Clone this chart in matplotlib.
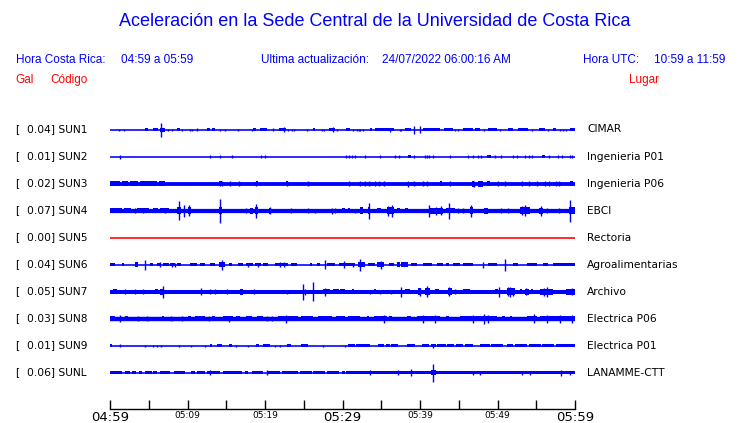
import matplotlib
matplotlib.use('Agg')
import matplotlib.pyplot as plt

W, H = 740, 423
BLUE = '#0000ff'
RED = '#ff0000'

stations = ['SUN1', 'SUN2', 'SUN3', 'SUN4', 'SUN5', 'SUN6', 'SUN7', 'SUN8', 'SUN9', 'SUNL']
places = ['CIMAR', 'Ingenieria P01', 'Ingenieria P06', 'EBCI', 'Rectoria',
          'Agroalimentarias', 'Archivo', 'Electrica P06', 'Electrica P01', 'LANAMME-CTT']
peaks = [0.04, 0.01, 0.02, 0.07, 0.00, 0.04, 0.05, 0.03, 0.01, 0.06]
# half thickness (px) of the quiet part of each trace
base = [0.6, 0.6, 1.7, 1.9, 0.6, 0.6, 1.8, 2.0, 0.6, 0.6]

tick_minutes = list(range(0, 61, 5))
tick_labels = ['04:59', '', '05:09', '', '05:19', '', '05:29', '', '05:39', '', '05:49', '', '05:59']

# bursts: (start minute, end minute, half amplitude px); spikes: (minute, half amplitude px)
sun1_blobs = [(4.5, 4.9, 1.3), (5.6, 6.2, 1.3), (6.4, 7.1, 2.0), (8.7, 9.0, 1.3), (12.5, 12.9, 1.3),
              (13.2, 13.6, 1.3), (18.5, 18.8, 1.3), (19.4, 20.2, 1.3), (21.8, 22.7, 1.5), (26.2, 26.5, 1.3),
              (28.2, 29.0, 1.5), (30.5, 31.0, 1.3), (33.5, 33.8, 1.3), (34.2, 36.6, 1.5), (38.1, 38.9, 1.3),
              (40.4, 42.6, 1.5), (43.1, 44.3, 1.3), (45.6, 46.9, 1.5), (47.1, 47.7, 1.3), (48.8, 49.9, 1.5),
              (51.4, 52.0, 1.3), (52.7, 54.0, 1.5), (55.3, 56.1, 1.3), (57.2, 57.6, 1.3), (59.4, 60.0, 1.5)]
sun1_spikes = [(1.1, 1), (1.8, 1), (6.6, 7), (7.5, 1), (8.0, 1), (9.3, 1), (10.3, 1), (10.6, 1), (11.2, 1.3),
               (14.2, 1), (14.8, 1), (16.5, 1), (18.3, 1), (21.0, 1.3), (22.5, 2.2), (23.0, 1), (23.5, 1),
               (23.8, 1), (25.4, 1), (27.4, 1), (27.6, 1), (28.8, 2.3), (29.3, 1), (31.4, 1), (31.9, 1),
               (32.1, 1), (32.3, 1), (32.6, 1), (36.1, 2), (37.4, 1), (37.6, 1), (39.2, 4), (40.0, 3.5),
               (44.5, 1), (44.9, 1), (48.3, 1), (50.3, 1), (54.4, 1), (56.5, 1), (58.1, 1), (58.4, 1), (58.9, 1)]

sun2_blobs = [(38.5, 38.9, 1.4), (48.6, 49.2, 1.4), (55.7, 56.1, 1.2)]
sun2_spikes = [(1.3, 2), (12.9, 1.5), (14.2, 1.5), (15.7, 1.5), (19.5, 1.5), (20.0, 1.5), (30.5, 1.2),
               (30.9, 1.2), (31.2, 1.2), (31.6, 1.2), (32.9, 1.2), (34.8, 1.2), (36.8, 1.2), (37.3, 1.2),
               (39.2, 1.2), (40.6, 1.2), (40.9, 1.2), (41.2, 1.2), (41.7, 1.2), (43.9, 1.2), (46.2, 1.2),
               (46.8, 1.2), (47.5, 1.2), (47.9, 1.2), (49.7, 1.2), (50.5, 1.2), (52.0, 1.2), (52.5, 1.2),
               (53.5, 1.2), (54.1, 1.2), (54.5, 1.2), (56.6, 1.2), (57.8, 1.2), (58.3, 1.2), (59.4, 1.2), (59.6, 1.2)]

sun3_blobs = [(0.0, 1.3, 2.2), (1.5, 2.3, 2.2), (2.6, 3.6, 2.2), (3.9, 6.0, 2.2), (6.3, 7.1, 2.2),
              (14.1, 14.4, 2.5), (18.8, 19.1, 2.5), (22.7, 23.0, 2.5), (42.6, 42.8, 2.5), (46.7, 46.9, 3.0),
              (47.5, 48.1, 3.0), (48.6, 49.0, 2.7), (59.3, 59.8, 2.5)]
sun3_spikes = [(14.2, 2.7), (14.5, 2.3), (15.5, 2.5), (16.7, 2.2), (18.9, 2.7), (22.8, 2.7), (25.6, 2.3),
               (30.9, 2.2), (32.3, 2.5), (32.9, 2.2), (33.4, 2.2), (34.2, 2.2), (34.7, 2.3), (35.4, 2.2),
               (38.5, 3.0), (39.2, 2.3), (40.4, 2.2), (40.9, 2.2), (43.9, 2.2), (47.0, 3.0), (50.0, 2.2),
               (51.0, 2.2), (53.2, 2.2), (54.0, 2.2), (55.1, 2.2), (56.1, 2.3), (56.6, 2.3), (57.6, 2.3), (57.9, 2.3)]

sun4_blobs = [(0.0, 1.5, 2.3), (1.8, 2.7, 2.3), (3.5, 5.0, 2.3), (5.6, 6.2, 2.3), (6.5, 7.6, 2.3),
              (8.6, 9.1, 3.2), (10.0, 10.5, 3.2), (14.0, 14.4, 3.2), (18.1, 18.5, 3.0), (18.7, 19.1, 3.5),
              (20.5, 20.7, 3.0), (29.9, 30.3, 2.8), (30.7, 31.0, 2.3), (32.3, 32.6, 3.2), (33.3, 33.5, 3.5),
              (34.4, 35.0, 2.8), (35.7, 36.6, 3.5), (37.0, 37.4, 2.5), (38.1, 38.5, 2.3), (41.1, 43.0, 3.0),
              (43.4, 44.5, 2.8), (46.5, 46.8, 3.2), (48.2, 48.8, 3.0), (52.9, 54.2, 3.3), (55.3, 55.9, 3.0),
              (59.2, 60.0, 3.2)]
sun4_spikes = [(3.2, 2.5), (4.3, 2.5), (7.1, 2.5), (8.9, 9.3), (9.6, 6), (10.2, 5.5), (14.2, 12), (17.6, 2.3),
               (18.9, 7), (20.6, 3.5), (23.4, 2.5), (25.6, 2.3), (26.4, 2.0), (28.6, 3), (29.0, 2.5), (31.6, 2.0),
               (33.4, 8), (35.9, 5), (36.4, 6), (41.2, 6), (42.0, 4), (42.7, 4.5), (43.7, 8), (44.9, 2.5),
               (45.6, 2.5), (46.6, 6), (50.5, 2.3), (51.4, 2.3), (53.2, 4.5), (53.6, 5.5), (55.6, 5), (56.4, 2.3),
               (57.9, 2.3), (59.4, 11)]

sun5_blobs = []
sun5_spikes = []

sun6_blobs = [(0.0, 0.6, 1.3), (1.5, 1.7, 1.3), (3.2, 3.6, 2.2), (5.2, 5.5, 1.8), (6.0, 6.6, 1.6), (6.9, 7.6, 1.6),
              (7.8, 8.4, 1.6), (8.6, 9.2, 1.6), (10.3, 11.2, 1.4), (11.6, 12.3, 1.4), (12.9, 13.5, 1.4),
              (14.0, 14.8, 2.2), (15.3, 15.7, 1.4), (16.5, 17.1, 1.4), (17.6, 18.4, 1.4), (18.7, 19.5, 1.4),
              (19.8, 20.4, 1.4), (21.3, 23.0, 1.8), (23.4, 24.1, 1.4), (25.8, 26.1, 1.4), (26.7, 27.1, 1.8),
              (28.0, 29.0, 1.6), (29.5, 31.6, 1.6), (32.0, 32.9, 2.2), (33.3, 34.2, 1.6), (34.4, 35.3, 2.2),
              (36.0, 36.6, 1.4), (37.0, 37.4, 2.2), (37.6, 38.5, 2.2), (38.9, 39.6, 1.8), (40.4, 41.5, 1.8),
              (42.2, 43.0, 1.4), (43.4, 43.8, 1.4), (44.3, 45.2, 1.8), (45.6, 46.9, 1.8), (48.8, 49.9, 1.4),
              (52.0, 52.7, 1.4), (53.8, 55.1, 1.8), (55.9, 56.5, 1.8), (57.2, 60.0, 1.6)]
sun6_spikes = [(4.5, 5), (6.5, 2.5), (8.0, 2), (8.4, 2), (14.5, 5), (17.8, 2), (19.1, 2), (21.9, 2.5),
               (22.5, 2.5), (27.7, 4.5), (30.2, 3.5), (31.3, 2), (32.3, 6), (35.0, 4), (48.1, 3), (51.0, 6)]

sun7_blobs = [(0.4, 0.9, 2.8), (5.8, 6.2, 2.4), (6.5, 7.0, 3.0), (16.8, 17.0, 3.0), (27.5, 28.4, 2.7),
              (28.8, 29.5, 2.2), (29.7, 30.3, 2.2), (31.2, 31.4, 2.7), (34.0, 34.3, 2.3), (38.1, 38.7, 2.4),
              (39.7, 40.1, 3.2), (40.6, 41.3, 3.2), (41.9, 42.4, 2.4), (43.6, 44.1, 3.5), (45.6, 46.5, 2.7),
              (49.7, 49.9, 2.4), (51.2, 52.3, 3.3), (52.9, 53.1, 2.4), (53.5, 54.0, 3.0), (54.3, 54.5, 2.4),
              (55.5, 57.2, 3.0), (58.9, 60.0, 3.0)]
sun7_spikes = [(1.9, 2.2), (3.2, 2.5), (4.2, 2.3), (6.8, 6), (11.8, 3.5), (12.9, 2.3), (13.5, 2.3), (15.1, 2.3),
               (18.6, 2.5), (22.8, 2.0), (24.9, 8), (25.1, 3), (26.2, 9.5), (27.7, 4), (33.5, 2), (34.8, 2),
               (36.2, 2), (37.5, 5), (40.0, 4), (40.9, 5.5), (43.8, 4.5), (44.5, 2.5), (50.2, 5), (51.4, 4.5),
               (51.6, 5), (52.0, 4), (53.7, 3.5), (56.0, 4), (56.4, 5), (59.6, 3.5)]

sun8_blobs = [(0.0, 0.6, 2.4), (1.9, 2.3, 2.6), (6.7, 7.0, 2.6), (10.1, 10.5, 2.4), (11.0, 12.3, 2.3),
              (13.2, 13.5, 2.3), (14.6, 15.9, 2.4), (16.3, 16.8, 2.6), (17.6, 18.3, 2.6), (19.0, 19.7, 2.3),
              (21.7, 24.3, 2.5), (24.7, 26.2, 2.4), (26.9, 28.6, 2.4), (29.2, 30.3, 2.5), (30.7, 32.3, 2.4),
              (33.1, 33.4, 2.4), (34.0, 35.7, 2.7), (36.0, 36.4, 2.4), (38.3, 38.9, 2.7), (39.6, 42.6, 2.7),
              (43.4, 43.8, 2.4), (45.2, 49.9, 2.7), (50.6, 51.0, 2.4), (51.6, 51.9, 2.4), (53.8, 55.1, 2.7),
              (55.5, 60.0, 2.6)]
sun8_spikes = [(1.3, 3.5), (3.6, 2.7), (4.8, 2.7), (7.9, 2.7), (9.3, 2.7), (12.8, 2.7), (15.3, 3), (20.3, 2.7),
               (20.9, 2.7), (22.7, 4), (35.3, 4), (40.4, 4), (41.9, 4), (46.9, 4), (48.2, 5), (48.8, 4),
               (54.7, 4.5), (56.4, 4), (58.1, 4), (59.6, 4)]

sun9_blobs = [(0.0, 0.2, 1.3), (12.9, 13.2, 1.5), (13.8, 14.4, 1.3), (15.4, 15.7, 1.3), (18.9, 19.1, 1.3),
              (19.8, 20.6, 1.5), (22.9, 23.4, 1.5), (24.7, 25.6, 1.3), (30.7, 31.6, 1.3), (31.8, 33.5, 1.3),
              (34.6, 35.4, 1.3), (35.6, 36.1, 1.3), (36.3, 37.2, 1.3), (38.3, 39.4, 1.3), (40.2, 41.2, 1.3),
              (41.4, 42.0, 1.3), (42.2, 43.3, 1.3), (43.5, 44.4, 1.3), (44.6, 45.6, 1.3), (45.8, 46.9, 1.3),
              (47.7, 49.0, 1.3), (49.2, 50.7, 1.3), (51.2, 52.0, 1.3), (52.3, 53.8, 1.3), (54.0, 55.6, 1.3),
              (55.8, 57.3, 1.3), (57.5, 60.0, 1.3)]
sun9_spikes = [(1.3, 1.3), (4.5, 1), (5.6, 1), (6.0, 1), (6.6, 1), (8.9, 1), (10.5, 1), (12.2, 1), (16.3, 1),
               (17.8, 1), (21.3, 1), (21.9, 1), (27.5, 1), (30.3, 1), (41.7, 2)]

sunl_blobs = [(0.0, 1.5, 1.7), (1.9, 2.6, 1.5), (2.8, 3.4, 1.5), (3.7, 4.1, 1.5), (4.5, 5.4, 1.5), (5.6, 6.0, 1.5),
              (6.5, 7.7, 1.5), (8.2, 9.7, 1.5), (10.5, 11.0, 1.5), (11.2, 12.3, 1.5), (12.5, 14.2, 1.5),
              (14.6, 17.0, 1.5), (17.4, 17.8, 1.5), (18.3, 19.8, 1.5), (20.2, 21.9, 1.5), (22.2, 24.3, 1.5),
              (24.5, 26.0, 1.3), (26.2, 27.7, 1.5), (28.0, 29.5, 1.5), (29.9, 30.3, 1.5), (30.4, 60.0, 1.7),
              (41.4, 42.0, 2.8)]
sunl_spikes = [(12.9, 2.5), (20.3, 2.5), (33.5, 2.3), (37.2, 2.3), (38.9, 3.5), (41.7, 9), (46.8, 2), (47.7, 2),
               (53.1, 2), (54.2, 2), (58.2, 3), (59.4, 2)]

all_blobs = [sun1_blobs, sun2_blobs, sun3_blobs, sun4_blobs, sun5_blobs,
             sun6_blobs, sun7_blobs, sun8_blobs, sun9_blobs, sunl_blobs]
all_spikes = [sun1_spikes, sun2_spikes, sun3_spikes, sun4_spikes, sun5_spikes,
              sun6_spikes, sun7_spikes, sun8_spikes, sun9_spikes, sunl_spikes]


def fx(x):
    return x / W


def fy(y):
    return 1 - y / H


def draw_trace(ax, y, half, blobs, spikes, color):
    # quiet part of the trace: a line as thick as 2*half pixels (1 px = 0.72 pt)
    ax.hlines(y, 0, 60, color=color, lw=2 * half * 0.72 + 0.3, capstyle='butt')
    for t0, t1, a in blobs:
        ax.bar(t0, 2 * a, width=max(t1 - t0, 0.3), bottom=y - a, align='edge', color=color, lw=0)
    if spikes:
        ts = [s[0] for s in spikes]
        ax.vlines(ts, [y - s[1] for s in spikes], [y + s[1] for s in spikes], color=color, lw=1.0)


fig = plt.figure(figsize=(W / 100, H / 100), dpi=100)
fig.patch.set_facecolor('white')

# axes in pixel rows: y data == pixel row of the image
ax = fig.add_axes([fx(110), fy(409), fx(575) - fx(110), fy(115) - fy(409)])
ax.set_xlim(0, 60)
ax.set_ylim(409, 115)

row0, step = 129.5, 27
for i in range(len(stations)):
    y = row0 + step * i
    color = RED if peaks[i] == 0 else BLUE
    draw_trace(ax, y, base[i], all_blobs[i], all_spikes[i], color)
    fig.text(fx(15), fy(y), '[', fontsize=7.7, va='center', ha='left', family='DejaVu Sans')
    fig.text(fx(27), fy(y), '%.2f] %s' % (peaks[i], stations[i]), fontsize=7.7, va='center', ha='left',
             family='DejaVu Sans')
    fig.text(fx(587), fy(y), places[i], fontsize=7.7, va='center', ha='left', family='DejaVu Sans')

for s in ['top', 'left', 'right']:
    ax.spines[s].set_visible(False)
ax.spines['bottom'].set_linewidth(1.0)
ax.set_yticks([])
ax.set_xticks(tick_minutes)
ax.set_xticklabels(tick_labels)
ax.tick_params(axis='x', direction='in', length=6.5, width=1.0, pad=1.5)
for lab in ax.get_xticklabels():
    if lab.get_text() in ('04:59', '05:29', '05:59'):
        lab.set_fontsize(9.5)
    else:
        lab.set_fontsize(6.5)

hdr = 'Liberation Sans'
fig.text(fx(375), fy(22), 'Aceleración en la Sede Central de la Universidad de Costa Rica',
         fontsize=13, color=BLUE, ha='center', va='center', family=hdr)
fig.text(fx(16), fy(60), 'Hora Costa Rica:', fontsize=8.5, color=BLUE, va='center', family=hdr)
fig.text(fx(121), fy(60), '04:59 a 05:59', fontsize=8.5, color=BLUE, va='center', family=hdr)
fig.text(fx(261), fy(60), 'Ultima actualización:', fontsize=8.5, color=BLUE, va='center', family=hdr)
fig.text(fx(382), fy(60), '24/07/2022 06:00:16 AM', fontsize=8.5, color=BLUE, va='center', family=hdr)
fig.text(fx(583), fy(60), 'Hora UTC:', fontsize=8.5, color=BLUE, va='center', family=hdr)
fig.text(fx(654), fy(60), '10:59 a 11:59', fontsize=8.5, color=BLUE, va='center', family=hdr)
fig.text(fx(15), fy(80), 'Gal', fontsize=8.5, color=RED, va='center', family=hdr)
fig.text(fx(50), fy(80), 'Código', fontsize=8.5, color=RED, va='center', family=hdr)
fig.text(fx(629), fy(80), 'Lugar', fontsize=8.5, color=RED, va='center', family=hdr)

fig.savefig('out.png', dpi=100)
